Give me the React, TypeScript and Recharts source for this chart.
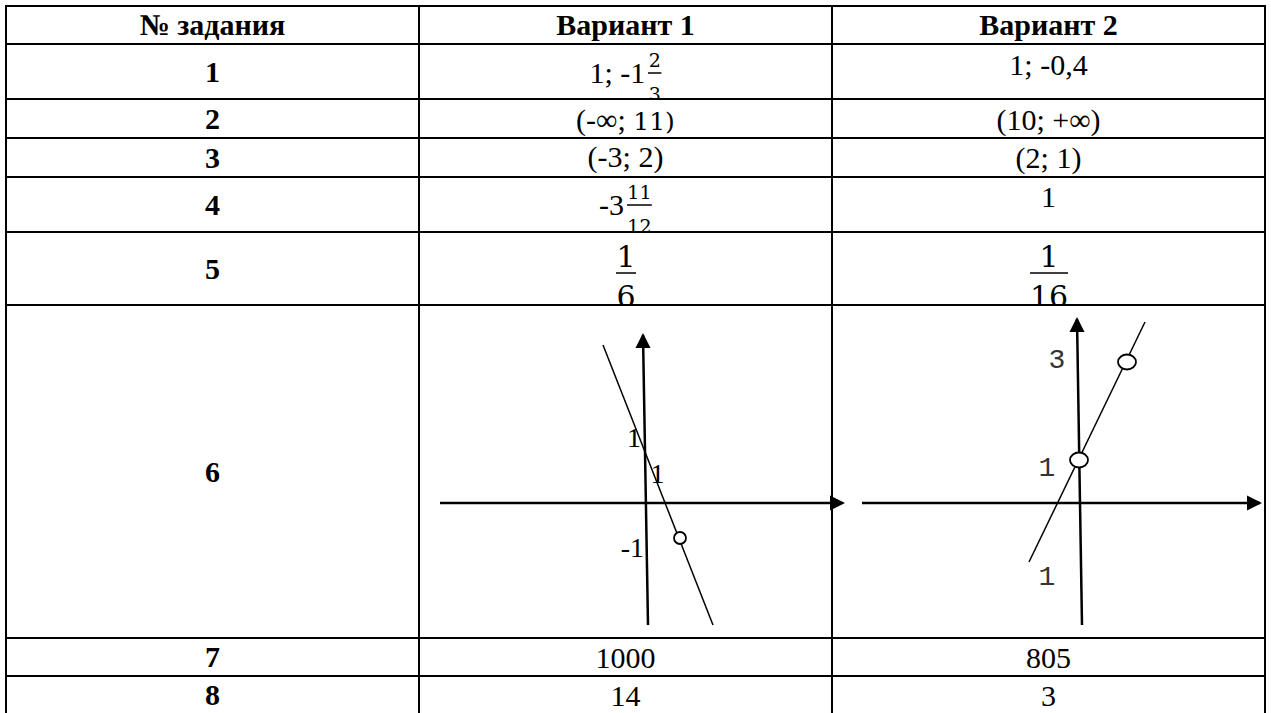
import { Scatter, ScatterChart, XAxis, YAxis } from "recharts";

// ---- table content ----
const headers = ["№ задания", "Вариант 1", "Вариант 2"];
const taskNumbers = ["1", "2", "3", "4", "5", "6", "7", "8"];

type Frac = { num: string; den: string; big?: boolean };
type Piece = string | Frac | { math: string };

const variant1: Piece[][] = [
  ["1; -1", { num: "2", den: "3" }],
  ["(-∞; ", { math: "11)" }],
  ["(-3; 2)"],
  ["-3", { num: "11", den: "12" }],
  [{ num: "1", den: "6", big: true }],
  [],
  ["1000"],
  ["14"],
];

const variant2: Piece[][] = [
  ["1; -0,4"],
  ["(10; +∞)"],
  ["(2; 1)"],
  ["1"],
  [{ num: "1", den: "16", big: true }],
  [],
  ["805"],
  ["3"],
];

// ---- sketch for variant 1 (units: axes cross at 0,0) ----
const v1AxisX = [
  { x: -5.15, y: 0 },
  { x: 4.9, y: 0 },
];
const v1AxisY = [
  { x: 0.05, y: -3.05 },
  { x: -0.075, y: 4.2 },
];
const v1Line = [
  { x: -1.075, y: 3.95 },
  { x: 1.675, y: -3.05 },
];
const v1Holes = [{ x: 0.85, y: -0.875 }];
const v1Arrows = [
  { x: 4.975, y: 0, dir: "right" },
  { x: -0.075, y: 4.25, dir: "up" },
];
const v1Labels = [
  { x: -0.3, y: 1.64, t: "1" },
  { x: 0.29, y: 0.75, t: "1" },
  { x: -0.34, y: -1.1, t: "-1" },
];

// ---- sketch for variant 2 ----
const v2AxisX = [
  { x: -5.45, y: 0 },
  { x: 4.5, y: 0 },
];
const v2AxisY = [
  { x: 0.05, y: -3.05 },
  { x: -0.075, y: 4.6 },
];
const v2Line = [
  { x: -1.275, y: -1.475 },
  { x: 1.625, y: 4.525 },
];
const v2Holes = [
  { x: -0.025, y: 1.075 },
  { x: 1.175, y: 3.525 },
];
const v2Arrows = [
  { x: 4.55, y: 0, dir: "right" },
  { x: -0.075, y: 4.65, dir: "up" },
];
const v2Labels = [
  { x: -0.575, y: 3.575, t: "3" },
  { x: -0.825, y: 0.875, t: "1" },
  { x: -0.825, y: -1.85, t: "1" },
];

// ---- layout ----
const ROW_LINES = [6, 44, 99, 138, 177, 232, 305, 638, 676, 714];
const COL_LINES = [6, 419, 832, 1265];
const V1_BASE = [83, 130, 167, 215, 267, 0, 668, 706];
const V2_BASE = [75, 130, 168, 207, 267, 0, 668, 706];

const SERIF = '"Liberation Serif", "Times New Roman", serif';
const MATH = '"DejaVu Serif", serif';
const MONO = '"Liberation Mono", "Courier New", monospace';
const FS = 30;
const ASC = 25; // baseline offset inside a 30px line box

function Fraction({ num, den, big }: Frac) {
  const fs = big ? 30 : 19;
  const numDy = big ? 0 : -16;
  const barDy = big ? 6 : -10;
  const denDy = big ? 40 : 18;
  const w = Math.max(num.length, den.length) * 0.6 * fs + (big ? 2 : 2);
  return (
    <span
      style={{
        display: "inline-block",
        position: "relative",
        width: w,
        height: 0,
        marginLeft: big ? 0 : 3,
      }}
    >
      <svg
        width={w}
        height={80}
        style={{ position: "absolute", left: 0, top: -40, overflow: "visible" }}
      >
        <text x={w / 2} y={40 + numDy} textAnchor="middle" fontFamily={MATH} fontSize={fs}>
          {num}
        </text>
        <line x1={0} x2={w} y1={40 + barDy} y2={40 + barDy} stroke="#000" strokeWidth={1.5} />
        <text x={w / 2} y={40 + denDy} textAnchor="middle" fontFamily={MATH} fontSize={fs}>
          {den}
        </text>
      </svg>
    </span>
  );
}

function renderPieces(pieces: Piece[]) {
  return pieces.map((p, k) => {
    if (typeof p === "string") return <span key={k}>{p}</span>;
    if ("math" in p)
      return (
        <span key={k} style={{ fontFamily: MATH, fontSize: 25, lineHeight: "25px" }}>
          {p.math}
        </span>
      );
    return <Fraction key={k} {...p} />;
  });
}

const noShape = () => <g />;

const arrowShape = (p: any) => {
  const { cx, cy, payload } = p;
  const L = 15;
  const H = 7.5;
  const pts =
    payload.dir === "right"
      ? `${cx},${cy} ${cx - L},${cy - H} ${cx - L},${cy + H}`
      : `${cx},${cy} ${cx - H},${cy + L} ${cx + H},${cy + L}`;
  return <polygon points={pts} fill="#000" />;
};

type SketchProps = {
  left: number;
  width: number;
  xDomain: [number, number];
  axisX: { x: number; y: number }[];
  axisY: { x: number; y: number }[];
  line: { x: number; y: number }[];
  holes: { x: number; y: number }[];
  arrows: { x: number; y: number; dir: string }[];
  labels: { x: number; y: number; t: string }[];
  labelFont: string;
  labelSize: number;
  labelColor: string;
  holeRx: number;
  holeRy: number;
};

function Sketch(props: SketchProps) {
  const top = ROW_LINES[6];
  const height = ROW_LINES[7] - ROW_LINES[6];
  const holeShape = (p: any) => (
    <ellipse
      cx={p.cx}
      cy={p.cy}
      rx={props.holeRx}
      ry={props.holeRy}
      fill="#fff"
      stroke="#000"
      strokeWidth={1.8}
    />
  );
  const labelShape = (p: any) => (
    <text
      x={p.cx}
      y={p.cy}
      textAnchor="middle"
      dominantBaseline="central"
      fontFamily={props.labelFont}
      fontSize={props.labelSize}
      fill={props.labelColor}
    >
      {p.payload.t}
    </text>
  );
  return (
    <div style={{ position: "absolute", left: props.left, top }}>
      <ScatterChart
        width={props.width}
        height={height}
        margin={{ top: 0, right: 0, bottom: 0, left: 0 }}
      >
        <XAxis type="number" dataKey="x" domain={props.xDomain} hide allowDataOverflow />
        <YAxis type="number" dataKey="y" domain={[-3.375, 4.95]} hide allowDataOverflow />
        <Scatter
          data={props.axisX}
          line={{ stroke: "#000", strokeWidth: 2.5 }}
          shape={noShape}
          isAnimationActive={false}
        />
        <Scatter
          data={props.axisY}
          line={{ stroke: "#000", strokeWidth: 2.5 }}
          shape={noShape}
          isAnimationActive={false}
        />
        <Scatter
          data={props.line}
          line={{ stroke: "#000", strokeWidth: 1.5 }}
          shape={noShape}
          isAnimationActive={false}
        />
        <Scatter data={props.arrows} shape={arrowShape} isAnimationActive={false} />
        <Scatter data={props.holes} shape={holeShape} isAnimationActive={false} />
        <Scatter data={props.labels} shape={labelShape} isAnimationActive={false} />
      </ScatterChart>
    </div>
  );
}

export default function App() {
  const left = COL_LINES[0];
  const right = COL_LINES[COL_LINES.length - 1];
  const topY = ROW_LINES[0];
  const bottomY = ROW_LINES[ROW_LINES.length - 1];

  const cells: JSX.Element[] = [];

  // header row
  headers.forEach((h, c) => {
    const x0 = COL_LINES[c];
    const x1 = COL_LINES[c + 1];
    const h0 = ROW_LINES[1] - ROW_LINES[0];
    cells.push(
      <div
        key={`h${c}`}
        style={{
          position: "absolute",
          left: x0,
          width: x1 - x0,
          top: ROW_LINES[0] + (h0 - FS) / 2,
          textAlign: "center",
          fontWeight: "bold",
          whiteSpace: "nowrap",
        }}
      >
        {h}
      </div>,
    );
  });

  taskNumbers.forEach((n, i) => {
    const y0 = ROW_LINES[i + 1];
    const y1 = ROW_LINES[i + 2];
    cells.push(
      <div
        key={`n${i}`}
        style={{
          position: "absolute",
          left: COL_LINES[0],
          width: COL_LINES[1] - COL_LINES[0],
          top: y0 + (y1 - y0 - FS) / 2,
          textAlign: "center",
          fontWeight: "bold",
        }}
      >
        {n}
      </div>,
    );
    [variant1[i], variant2[i]].forEach((pieces, v) => {
      if (!pieces.length) return;
      const base = (v === 0 ? V1_BASE : V2_BASE)[i];
      const x0 = COL_LINES[v + 1];
      const x1 = COL_LINES[v + 2];
      cells.push(
        <div
          key={`a${i}-${v}`}
          style={{
            position: "absolute",
            left: x0 + 1,
            width: x1 - x0 - 2,
            top: y0 + 1,
            height: y1 - y0 - 2,
            overflow: "hidden",
          }}
        >
          <div
            style={{
              position: "absolute",
              left: 0,
              right: 0,
              top: base - ASC - y0 - 1,
              textAlign: "center",
              whiteSpace: "nowrap",
            }}
          >
            {renderPieces(pieces)}
          </div>
        </div>,
      );
    });
  });

  return (
    <div
      style={{
        position: "absolute",
        left: 0,
        top: 0,
        width: 1271,
        height: 713,
        overflow: "hidden",
        background: "#fff",
        fontFamily: SERIF,
        fontSize: FS,
        lineHeight: `${FS}px`,
        color: "#000",
      }}
    >
      {ROW_LINES.map((y, i) => (
        <div
          key={`r${i}`}
          style={{
            position: "absolute",
            left: left - 1,
            width: right - left + 2,
            top: y - 1,
            height: 2,
            background: "#000",
          }}
        />
      ))}
      {COL_LINES.map((x, i) => (
        <div
          key={`c${i}`}
          style={{
            position: "absolute",
            left: x - 1,
            width: 2,
            top: topY - 1,
            height: bottomY - topY + 2,
            background: "#000",
          }}
        />
      ))}
      {cells}
      <Sketch
        left={420}
        width={440}
        xDomain={[-5.65, 5.35]}
        axisX={v1AxisX}
        axisY={v1AxisY}
        line={v1Line}
        holes={v1Holes}
        arrows={v1Arrows}
        labels={v1Labels}
        labelFont={SERIF}
        labelSize={28}
        labelColor="#000"
        holeRx={6}
        holeRy={6}
      />
      <Sketch
        left={845}
        width={420}
        xDomain={[-5.875, 4.625]}
        axisX={v2AxisX}
        axisY={v2AxisY}
        line={v2Line}
        holes={v2Holes}
        arrows={v2Arrows}
        labels={v2Labels}
        labelFont={MONO}
        labelSize={28}
        labelColor="#333"
        holeRx={9}
        holeRy={7.5}
      />
    </div>
  );
}
